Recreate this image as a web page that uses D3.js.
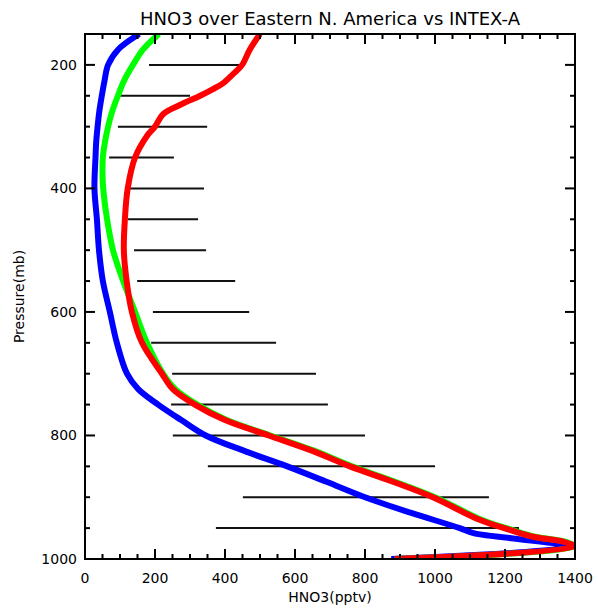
<!DOCTYPE html>
<html lang="en">
<head>
    <meta charset="UTF-8">
    <title>HNO3 over Eastern N. America vs INTEX-A</title>
    <script src="https://cdn.jsdelivr.net/npm/d3@7"></script>
    <style>
        body {
            margin: 0;
            background: white;
        }
        svg {
            display: block;
        }
        text {
            font-family: "DejaVu Sans", sans-serif;
            fill: black;
        }
    </style>
</head>
<body>
    <script>
        // observed (INTEX-A) ranges, one bar per pressure level
        const obsPressure = [200, 250, 300, 350, 400, 450, 500, 550, 600, 650, 700, 750, 800, 850, 900, 950];
        const obsLow = [183, 94, 94, 69, 126, 123, 140, 149, 194, 189, 249, 246, 251, 351, 451, 374];
        const obsHigh = [451, 300, 349, 254, 340, 323, 346, 429, 469, 546, 660, 694, 800, 1000, 1154, 1240];

        // model profiles
        const bluePressure = [150, 175, 200, 225, 250, 275, 300, 325, 350, 400, 450, 500, 550, 600, 650, 700, 725, 750, 775, 800, 825, 850, 875, 900, 925, 950, 958, 980, 1000];
        const blueHNO3 = [155, 95, 66, 56, 48, 41, 36, 32, 30, 27, 34, 40, 51, 71, 91, 120, 152, 209, 275, 345, 455, 578, 690, 800, 930, 1071, 1110, 1380, 875];

        const greenPressure = [150, 175, 200, 225, 250, 275, 300, 325, 350, 375, 400, 450, 500, 550, 600, 650, 700, 725, 750, 775, 800, 825, 850, 875, 900, 937, 953, 964, 972, 980, 1000];
        const greenHNO3 = [211, 166, 137, 112, 94, 78, 66, 57, 51, 50, 52, 63, 80, 109, 143, 177, 223, 258, 321, 405, 530, 656, 763, 886, 1000, 1135, 1220, 1286, 1372, 1400, 885];

        const redPressure = [150, 175, 200, 215, 230, 240, 250, 265, 280, 300, 315, 350, 400, 450, 500, 550, 600, 650, 700, 725, 750, 775, 800, 825, 850, 875, 900, 937, 953, 964, 972, 980, 1000];
        const redHNO3 = [500, 471, 449, 423, 394, 363, 329, 271, 223, 200, 177, 143, 122, 114, 111, 119, 134, 163, 220, 251, 314, 400, 525, 650, 757, 880, 994, 1129, 1214, 1280, 1366, 1400, 885];

        const width = 598;
        const height = 609;
        const margin = { top: 34, right: 23, bottom: 50, left: 85 };

        let svg = d3.select("body").append("svg")
            .attr("width", width)
            .attr("height", height);

        const x = d3.scaleLinear()
            .domain([0, 1400])
            .range([margin.left, width - margin.right]);

        const y = d3.scaleLinear()
            .domain([150, 1000])
            .range([margin.top, height - margin.bottom]);

        // clip so the thick profiles stay inside the frame
        svg.append("clipPath").attr("id", "plotClip")
            .append("rect")
            .attr("x", margin.left)
            .attr("y", margin.top)
            .attr("width", width - margin.left - margin.right)
            .attr("height", height - margin.top - margin.bottom);

        let gPlot = svg.append("g").attr("clip-path", "url(#plotClip)");

        // observation bars
        gPlot.selectAll(".obs")
            .data(obsPressure)
            .enter()
            .append("line")
            .attr("x1", (d, i) => x(obsLow[i]))
            .attr("x2", (d, i) => x(obsHigh[i]))
            .attr("y1", d => y(d))
            .attr("y2", d => y(d))
            .attr("stroke", "#111")
            .attr("stroke-width", 2);

        // profiles, red drawn last so it sits on top
        const profiles = [
            { p: bluePressure, v: blueHNO3, color: "#0000ff" },
            { p: greenPressure, v: greenHNO3, color: "#00ff00" },
            { p: redPressure, v: redHNO3, color: "#ff0000" }
        ];

        const line = d3.line()
            .x(d => x(d[1]))
            .y(d => y(d[0]))
            .curve(d3.curveCatmullRom.alpha(0.5));

        profiles.forEach(prof => {
            gPlot.append("path")
                .datum(prof.p.map((p, i) => [p, prof.v[i]]))
                .attr("fill", "none")
                .attr("stroke", prof.color)
                .attr("stroke-width", 6)
                .attr("stroke-linejoin", "round")
                .attr("d", line);
        });

        // axes, ticks point inward on all four sides
        const xMajor = d3.range(0, 1401, 200);
        const xMinor = d3.range(0, 1401, 50);
        const yMajor = d3.range(200, 1001, 200);
        const yMinor = d3.range(150, 1001, 50);

        function tickLen(isMajor) { return isMajor ? 10 : 5; }

        let gAxes = svg.append("g")
            .attr("stroke", "black")
            .attr("stroke-width", 2);

        xMinor.forEach(v => {
            const len = tickLen(v % 200 === 0);
            gAxes.append("line")
                .attr("x1", x(v)).attr("x2", x(v))
                .attr("y1", y(1000)).attr("y2", y(1000) - len);
            gAxes.append("line")
                .attr("x1", x(v)).attr("x2", x(v))
                .attr("y1", y(150)).attr("y2", y(150) + len);
        });

        yMinor.forEach(v => {
            const len = tickLen(v % 200 === 0);
            gAxes.append("line")
                .attr("x1", x(0)).attr("x2", x(0) + len)
                .attr("y1", y(v)).attr("y2", y(v));
            gAxes.append("line")
                .attr("x1", x(1400)).attr("x2", x(1400) - len)
                .attr("y1", y(v)).attr("y2", y(v));
        });

        gAxes.append("rect")
            .attr("x", x(0))
            .attr("y", y(150))
            .attr("width", x(1400) - x(0))
            .attr("height", y(1000) - y(150))
            .attr("fill", "none");

        // tick labels
        svg.selectAll(".xlab")
            .data(xMajor)
            .enter()
            .append("text")
            .attr("x", d => x(d))
            .attr("y", y(1000) + 24)
            .attr("text-anchor", "middle")
            .attr("font-size", 14)
            .text(d => d);

        svg.selectAll(".ylab")
            .data(yMajor)
            .enter()
            .append("text")
            .attr("x", x(0) - 8)
            .attr("y", d => y(d) + 5)
            .attr("text-anchor", "end")
            .attr("font-size", 14)
            .text(d => d);

        // titles
        svg.append("text")
            .attr("x", (x(0) + x(1400)) / 2)
            .attr("y", 25)
            .attr("text-anchor", "middle")
            .attr("font-size", 18)
            .text("HNO3 over Eastern N. America vs INTEX-A");

        svg.append("text")
            .attr("x", (x(0) + x(1400)) / 2)
            .attr("y", 602)
            .attr("text-anchor", "middle")
            .attr("font-size", 14)
            .text("HNO3(pptv)");

        svg.append("text")
            .attr("transform", `translate(24,${(y(150) + y(1000)) / 2}) rotate(-90)`)
            .attr("text-anchor", "middle")
            .attr("font-size", 14)
            .text("Pressure(mb)");
    </script>
</body>
</html>
